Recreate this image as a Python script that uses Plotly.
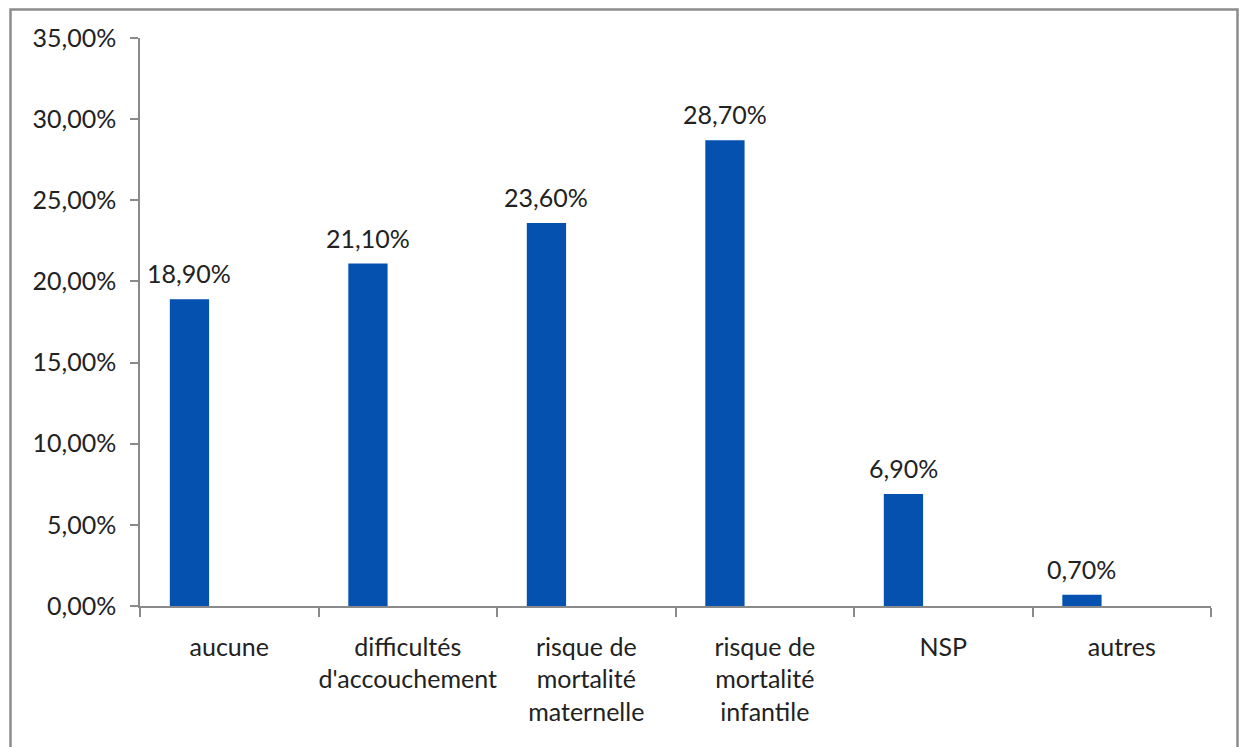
import plotly.graph_objects as go

# Survey categories and their shares (fractions of respondents)
categories = [
    "aucune",
    "difficultés<br>d'accouchement",
    "risque de<br>mortalité<br>maternelle",
    "risque de<br>mortalité<br>infantile",
    "NSP",
    "autres",
]
values = [0.189, 0.211, 0.236, 0.287, 0.069, 0.007]
y_ticks = [0.0, 0.05, 0.10, 0.15, 0.20, 0.25, 0.30, 0.35]

FONT = "Lato, 'Open Sans', sans-serif"
FSIZE = 25
TEXT = "#222222"
AXIS = "#8a8a8a"
BAR = "#0451B0"

W, H = 1239, 747
ML, MR, MT, MB = 140, 28, 38, 141
plot_w = W - ML - MR
plot_h = H - MT - MB

# Bar occupies the first slot of a three-slot cluster (Excel-style gap)
bar_width = 0.22
bar_offset = -0.333


def fmt(v):
    return f"{v * 100:.2f}".replace(".", ",") + "%"


fig = go.Figure(
    go.Bar(
        x=categories,
        y=values,
        width=bar_width,
        offset=bar_offset,
        marker=dict(color=BAR, line=dict(width=0)),
        hoverinfo="skip",
    )
)

# Value labels above each bar
cat_px = plot_w / len(categories)
label_shift = (bar_offset + bar_width / 2) * cat_px
for c, v in zip(categories, values):
    fig.add_annotation(
        x=c, y=v, xref="x", yref="y",
        text=fmt(v), showarrow=False,
        xshift=label_shift, yshift=26, yanchor="middle",
        font=dict(family=FONT, size=FSIZE, color=TEXT),
    )

# Chart frame
def px_x(p):
    return (p - ML) / plot_w


def px_y(p):
    return (H - MB - p) / plot_h


fig.add_shape(
    type="rect", xref="paper", yref="paper",
    x0=px_x(10.5), x1=px_x(1237.5), y0=px_y(770), y1=px_y(9.5),
    line=dict(color="#8c8c8c", width=2.5), fillcolor="rgba(0,0,0,0)",
    layer="above",
)

fig.update_layout(
    width=W, height=H,
    margin=dict(l=ML, r=MR, t=MT, b=MB, pad=0, autoexpand=False),
    paper_bgcolor="white", plot_bgcolor="white",
    separators=", ",
    showlegend=False,
    font=dict(family=FONT, size=FSIZE, color=TEXT),
    xaxis=dict(
        type="category",
        showline=True, linecolor=AXIS, linewidth=1.5,
        ticks="outside", tickson="boundaries", ticklen=9,
        tickcolor=AXIS, tickwidth=1.5,
        showgrid=False, zeroline=False,
        tickangle=0, automargin=False,
        ticklabelstandoff=18,
        tickfont=dict(family=FONT, size=FSIZE, color=TEXT),
        fixedrange=True,
    ),
    yaxis=dict(
        range=[0, 0.35],
        tickvals=y_ticks,
        tickformat=".2%",
        showline=True, linecolor=AXIS, linewidth=1.5,
        ticks="outside", ticklen=8, tickcolor=AXIS, tickwidth=1.5,
        showgrid=False, zeroline=False,
        automargin=False,
        ticklabelstandoff=9,
        tickfont=dict(family=FONT, size=FSIZE, color=TEXT),
        fixedrange=True,
    ),
)

fig.write_html("out.html", config={"displayModeBar": False})
